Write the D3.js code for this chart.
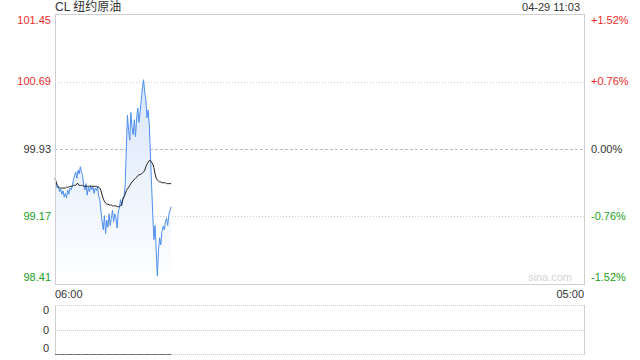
<!DOCTYPE html>
<html>
<head>
<meta charset="utf-8">
<script src="https://cdn.jsdelivr.net/npm/d3@7/dist/d3.min.js"></script>
<style>
  html, body { margin: 0; padding: 0; background: #fff; }
  svg { display: block; font-family: Arial, "Liberation Sans", "Noto Sans CJK SC", sans-serif; }
</style>
</head>
<body>
<div id="container"></div>
<script>
const title = "CL 纽约原油"
const stamp = "04-29 11:03"
const prevClose = 99.93
const priceTicks = [101.45, 100.69, 99.93, 99.17, 98.41]
const pctTicks = ["+1.52%", "+0.76%", "0.00%", "-0.76%", "-1.52%"]
const timeLabels = ["06:00", "05:00"]
const volTicks = [0, 0, 0]
const stepMinutes = 3
const sessionMinutes = 1380

// last price, one value every 3 minutes from 06:00
const prices = [
  99.60, 99.54, 99.49, 99.51, 99.45, 99.48, 99.42, 99.46, 99.39, 99.43,
  99.38, 99.47, 99.42, 99.49, 99.47, 99.51, 99.58, 99.63, 99.67, 99.60,
  99.69, 99.65, 99.73, 99.67, 99.63, 99.51, 99.47, 99.54, 99.41, 99.50,
  99.45, 99.52, 99.47, 99.50, 99.43, 99.49, 99.46, 99.51, 99.40, 99.36,
  99.22, 99.11, 99.02, 99.18, 98.98, 99.13, 99.05, 99.20, 99.07, 99.15,
  99.24, 99.11, 99.20, 99.16, 99.04, 99.22, 99.27, 99.36, 99.29, 99.38,
  99.40, 99.52, 99.92, 100.31, 100.14, 100.03, 100.34, 100.17, 100.09, 100.26,
  100.07, 100.28, 100.39, 100.23, 100.35, 100.48, 100.62, 100.71, 100.57, 100.48,
  100.28, 100.37, 100.20, 99.86, 99.52, 99.19, 98.91, 99.07, 98.79, 98.50,
  98.79, 98.93, 98.85, 99.00, 99.06, 99.02, 99.11, 99.15, 99.07, 99.19,
  99.24, 99.28
]

// average price
const averages = [
  99.60, 99.56, 99.52, 99.50, 99.49, 99.49, 99.49, 99.49, 99.49, 99.49,
  99.50, 99.50, 99.50, 99.51, 99.51, 99.51, 99.52, 99.52, 99.52, 99.54,
  99.54, 99.52, 99.52, 99.52, 99.52, 99.51, 99.51, 99.51, 99.51, 99.51,
  99.51, 99.51, 99.51, 99.51, 99.51, 99.51, 99.51, 99.50, 99.50, 99.49,
  99.46, 99.41, 99.37, 99.34, 99.32, 99.31, 99.31, 99.30, 99.30, 99.30,
  99.29, 99.29, 99.29, 99.29, 99.28, 99.28, 99.28, 99.29, 99.31, 99.36,
  99.39, 99.42, 99.46, 99.48, 99.50, 99.52, 99.54, 99.56, 99.57, 99.59,
  99.60, 99.61, 99.63, 99.64, 99.64, 99.65, 99.66, 99.67, 99.69, 99.73,
  99.76, 99.78, 99.80, 99.80, 99.78, 99.76, 99.72, 99.65, 99.60, 99.58,
  99.57, 99.56, 99.56, 99.55, 99.55, 99.55, 99.55, 99.54, 99.54, 99.54,
  99.54, 99.54
]

const volumes = [
  0, 0, 0, 0, 0, 0, 0, 0, 0, 0, 0, 0, 0, 0, 0, 0, 0, 0, 0, 0,
  0, 0, 0, 0, 0, 0, 0, 0, 0, 0, 0, 0, 0, 0, 0, 0, 0, 0, 0, 0,
  0, 0, 0, 0, 0, 0, 0, 0, 0, 0, 0, 0, 0, 0, 0, 0, 0, 0, 0, 0,
  0, 0, 0, 0, 0, 0, 0, 0, 0, 0, 0, 0, 0, 0, 0, 0, 0, 0, 0, 0,
  0, 0, 0, 0, 0, 0, 0, 0, 0, 0, 0, 0, 0, 0, 0, 0, 0, 0, 0, 0,
  0, 0
]

const width = 640
const height = 360
const plotLeft = 55, plotRight = 584
const plotTop = 14, plotBottom = 284
const vTop = 305, vBottom = 354

const red = "#ee2b2b", green = "#1c9e1c", dark = "#333", border = "#cfcfcf"

const svg = d3.create("svg")
              .attr("width", width)
              .attr("height", height)

const x = d3.scaleLinear().domain([0, sessionMinutes]).range([plotLeft, plotRight])
const y = d3.scaleLinear().domain([priceTicks[4], priceTicks[0]]).range([plotBottom, plotTop])
const yv = d3.scaleLinear().domain([0, 1]).range([vBottom, vTop])

const tickColor = (v) => v > prevClose + 1e-6 ? red : (v < prevClose - 1e-6 ? green : dark)

const defs = svg.append("defs")
const grad = defs.append("linearGradient")
                 .attr("id", "fillGrad")
                 .attr("gradientUnits", "userSpaceOnUse")
                 .attr("x1", 0).attr("x2", 0)
                 .attr("y1", y(priceTicks[1])).attr("y2", plotBottom)
grad.append("stop").attr("offset", 0).attr("stop-color", "#d9e7fb")
grad.append("stop").attr("offset", 1).attr("stop-color", "#ffffff")

// title + timestamp
svg.append("text")
   .attr("x", plotLeft).attr("y", 11)
   .attr("font-size", 12).attr("fill", dark)
   .text(title)

svg.append("text")
   .attr("x", plotRight - 4).attr("y", 11)
   .attr("text-anchor", "end")
   .attr("font-size", 11).attr("fill", dark)
   .text(stamp)

// grid lines
svg.append("g")
   .selectAll("line")
   .data(priceTicks.slice(1, 4))
   .enter()
   .append("line")
   .attr("x1", plotLeft).attr("x2", plotRight)
   .attr("y1", d => Math.round(y(d)) + 0.5)
   .attr("y2", d => Math.round(y(d)) + 0.5)
   .attr("stroke", d => d === prevClose ? "#bbb" : "#ccc")
   .attr("stroke-dasharray", d => d === prevClose ? "3,2" : "1,2")

// area + lines
const pts = prices.map((p, i) => ({t: i * stepMinutes, p: p, a: averages[i], v: volumes[i]}))

svg.append("path")
   .datum(pts)
   .attr("fill", "url(#fillGrad)")
   .attr("d", d3.area().x(d => x(d.t)).y0(plotBottom).y1(d => y(d.p)))

svg.append("path")
   .datum(pts)
   .attr("fill", "none")
   .attr("stroke", "#4d8ef0")
   .attr("stroke-width", 1)
   .attr("d", d3.line().x(d => x(d.t)).y(d => y(d.p)))

svg.append("path")
   .datum(pts)
   .attr("fill", "none")
   .attr("stroke", "#222")
   .attr("stroke-width", 1)
   .attr("d", d3.line().x(d => x(d.t)).y(d => y(d.a)))

// main frame
svg.append("rect")
   .attr("x", plotLeft + 0.5).attr("y", plotTop + 0.5)
   .attr("width", plotRight - plotLeft).attr("height", plotBottom - plotTop)
   .attr("fill", "none").attr("stroke", border)

// watermark
svg.append("text")
   .attr("x", plotRight - 12).attr("y", plotBottom - 3)
   .attr("text-anchor", "end")
   .attr("font-size", 11).attr("fill", "#d4d4d4")
   .text("sina.com")

// left price labels
svg.append("g")
   .selectAll("text")
   .data(priceTicks)
   .enter()
   .append("text")
   .attr("x", plotLeft - 4)
   .attr("y", (d, i) => y(d) + (i === 0 ? 6 : i === 4 ? -7 : 0))
   .attr("dy", "0.35em")
   .attr("text-anchor", "end")
   .attr("font-size", 11)
   .attr("fill", d => tickColor(d))
   .text(d => d.toFixed(2))

// right percent labels
svg.append("g")
   .selectAll("text")
   .data(pctTicks)
   .enter()
   .append("text")
   .attr("x", plotRight + 7)
   .attr("y", (d, i) => y(priceTicks[i]) + (i === 0 ? 6 : i === 4 ? -7 : 0))
   .attr("dy", "0.35em")
   .attr("font-size", 11)
   .attr("fill", (d, i) => tickColor(priceTicks[i]))
   .text(d => d)

// time labels
svg.append("text")
   .attr("x", plotLeft).attr("y", 298)
   .attr("font-size", 11).attr("fill", dark)
   .text(timeLabels[0])
svg.append("text")
   .attr("x", plotRight).attr("y", 298)
   .attr("text-anchor", "end")
   .attr("font-size", 11).attr("fill", dark)
   .text(timeLabels[1])

// volume panel
const vGrid = [vTop, (vTop + vBottom) / 2, vBottom]
svg.append("g")
   .selectAll("line")
   .data(vGrid)
   .enter()
   .append("line")
   .attr("x1", plotLeft).attr("x2", plotRight)
   .attr("y1", d => Math.round(d) + 0.5).attr("y2", d => Math.round(d) + 0.5)
   .attr("stroke", "#c8c8c8")
   .attr("stroke-dasharray", "1,1")

svg.append("g")
   .selectAll("line")
   .data([plotLeft, plotRight])
   .enter()
   .append("line")
   .attr("x1", d => d + 0.5).attr("x2", d => d + 0.5)
   .attr("y1", vTop).attr("y2", vBottom + 1)
   .attr("stroke", border)

svg.append("path")
   .datum(pts)
   .attr("fill", "none")
   .attr("stroke", "#666")
   .attr("d", d3.line().x(d => x(d.t)).y(d => Math.round(yv(d.v)) + 0.5))

svg.append("g")
   .selectAll("text")
   .data(volTicks)
   .enter()
   .append("text")
   .attr("x", plotLeft - 6)
   .attr("y", (d, i) => [310, 330, 348][i])
   .attr("dy", "0.35em")
   .attr("text-anchor", "end")
   .attr("font-size", 11)
   .attr("fill", dark)
   .text(d => d)

document.querySelector("#container").appendChild(svg.node())
</script>
</body>
</html>
